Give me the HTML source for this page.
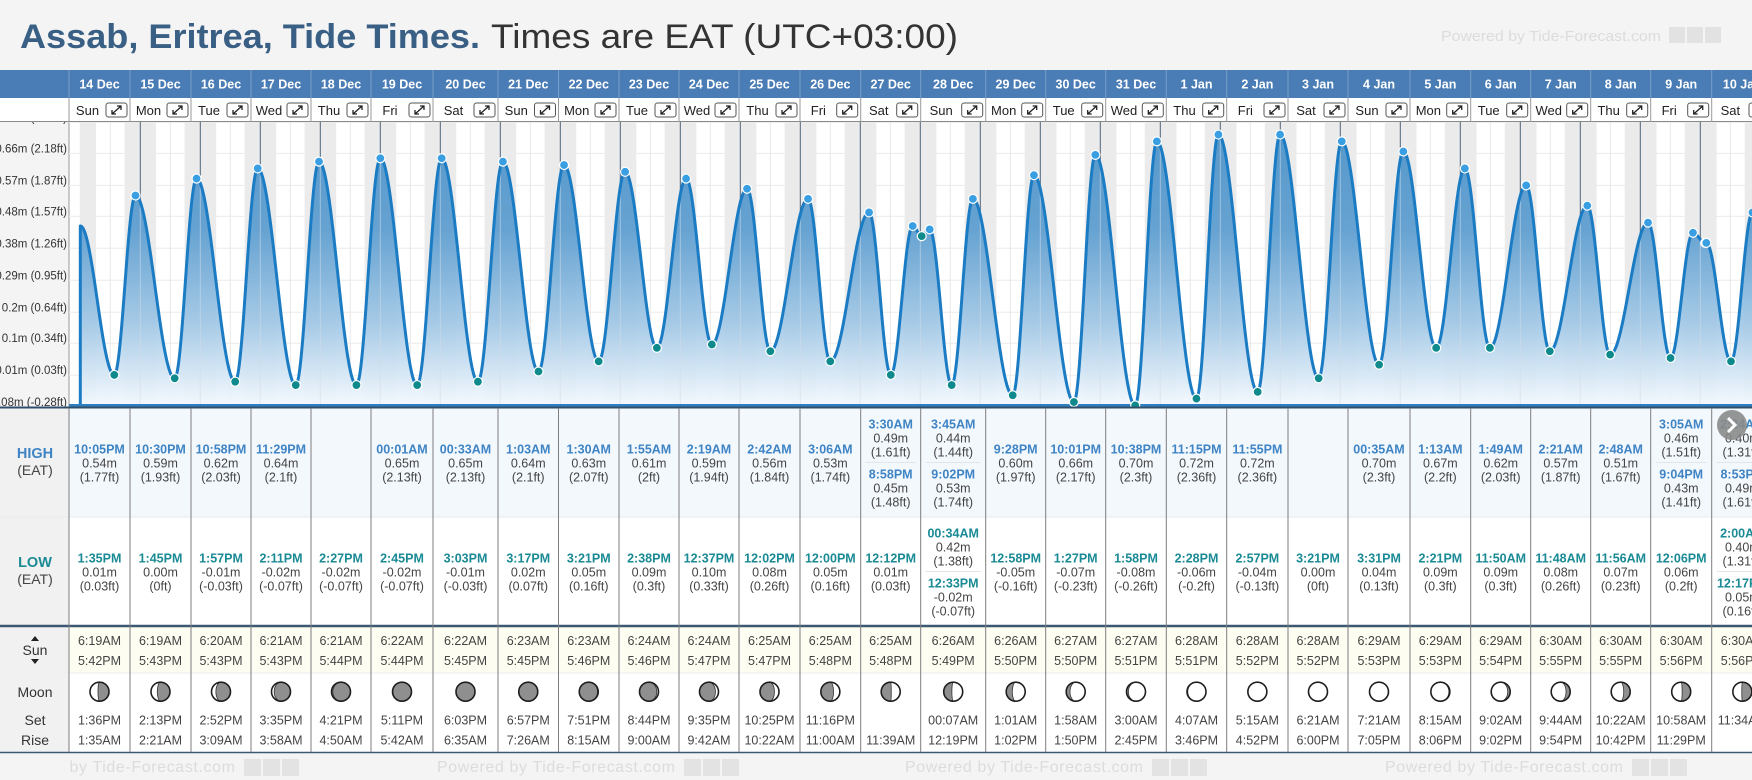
<!DOCTYPE html>
<html><head><meta charset="utf-8">
<style>
html,body{margin:0;padding:0;background:#f4f4f4;}
svg{display:block;font-family:"Liberation Sans",Arial,sans-serif;}
</style></head>
<body>
<svg id="c" width="1752" height="780" viewBox="0 0 1752 780" xmlns="http://www.w3.org/2000/svg">
<defs>
<linearGradient id="fillg" x1="0" y1="0" x2="0" y2="1" gradientUnits="objectBoundingBox">
<stop offset="0" stop-color="#4b92c8"/>
<stop offset="0.35" stop-color="#5c9dd0"/>
<stop offset="0.7" stop-color="#a2c8e6"/>
<stop offset="1" stop-color="#f4f9fe"/>
</linearGradient>
<clipPath id="plotclip"><rect x="69" y="122" width="1683" height="285"/></clipPath>
<clipPath id="footclip"><rect x="69" y="753" width="1683" height="27"/></clipPath>
</defs>
<rect x="0" y="0" width="1752" height="780" fill="#f4f4f4"/>
<text x="20" y="48" font-size="34" font-weight="bold" fill="#3a5f85" textLength="460" lengthAdjust="spacingAndGlyphs">Assab, Eritrea, Tide Times.</text>
<text x="491" y="48" font-size="34" fill="#333" textLength="467" lengthAdjust="spacingAndGlyphs">Times are EAT (UTC+03:00)</text>
<text x="1441" y="41" font-size="15" fill="#dcdcdc" textLength="220" lengthAdjust="spacingAndGlyphs">Powered by Tide-Forecast.com</text>
<g fill="#e2e2e2"><rect x="1669" y="27" width="16" height="16"/><rect x="1687" y="27" width="16" height="16"/><rect x="1705" y="27" width="16" height="16"/></g>
<g id="plot"></g>
<g id="table"></g>
</svg>
<script>
const dates=['14 Dec','15 Dec','16 Dec','17 Dec','18 Dec','19 Dec','20 Dec','21 Dec','22 Dec','23 Dec','24 Dec','25 Dec','26 Dec','27 Dec','28 Dec','29 Dec','30 Dec','31 Dec','1 Jan','2 Jan','3 Jan','4 Jan','5 Jan','6 Jan','7 Jan','8 Jan','9 Jan','10 Jan'];
const weekdays=['Sun','Mon','Tue','Wed','Thu','Fri','Sat','Sun','Mon','Tue','Wed','Thu','Fri','Sat','Sun','Mon','Tue','Wed','Thu','Fri','Sat','Sun','Mon','Tue','Wed','Thu','Fri','Sat'];
const highTime=[['10:05PM'],['10:30PM'],['10:58PM'],['11:29PM'],[],['00:01AM'],['00:33AM'],['1:03AM'],['1:30AM'],['1:55AM'],['2:19AM'],['2:42AM'],['3:06AM'],['3:30AM','8:58PM'],['3:45AM','9:02PM'],['9:28PM'],['10:01PM'],['10:38PM'],['11:15PM'],['11:55PM'],[],['00:35AM'],['1:13AM'],['1:49AM'],['2:21AM'],['2:48AM'],['3:05AM','9:04PM'],['2:24AM','8:53PM']];
const highM=[[0.54],[0.59],[0.62],[0.64],[],[0.65],[0.65],[0.64],[0.63],[0.61],[0.59],[0.56],[0.53],[0.49,0.45],[0.44,0.53],[0.60],[0.66],[0.70],[0.72],[0.72],[],[0.70],[0.67],[0.62],[0.57],[0.51],[0.46,0.43],[0.40,0.49]];
const highFt=[['1.77ft'],['1.93ft'],['2.03ft'],['2.1ft'],[],['2.13ft'],['2.13ft'],['2.1ft'],['2.07ft'],['2ft'],['1.94ft'],['1.84ft'],['1.74ft'],['1.61ft','1.48ft'],['1.44ft','1.74ft'],['1.97ft'],['2.17ft'],['2.3ft'],['2.36ft'],['2.36ft'],[],['2.3ft'],['2.2ft'],['2.03ft'],['1.87ft'],['1.67ft'],['1.51ft','1.41ft'],['1.31ft','1.61ft']];
const lowTime=[['1:35PM'],['1:45PM'],['1:57PM'],['2:11PM'],['2:27PM'],['2:45PM'],['3:03PM'],['3:17PM'],['3:21PM'],['2:38PM'],['12:37PM'],['12:02PM'],['12:00PM'],['12:12PM'],['00:34AM','12:33PM'],['12:58PM'],['1:27PM'],['1:58PM'],['2:28PM'],['2:57PM'],['3:21PM'],['3:31PM'],['2:21PM'],['11:50AM'],['11:48AM'],['11:56AM'],['12:06PM'],['2:00AM','12:17PM']];
const lowM=[[0.01],[0.00],[-0.01],[-0.02],[-0.02],[-0.02],[-0.01],[0.02],[0.05],[0.09],[0.10],[0.08],[0.05],[0.01],[0.42,-0.02],[-0.05],[-0.07],[-0.08],[-0.06],[-0.04],[0.00],[0.04],[0.09],[0.09],[0.08],[0.07],[0.06],[0.40,0.05]];
const lowFt=[['0.03ft'],['0ft'],['-0.03ft'],['-0.07ft'],['-0.07ft'],['-0.07ft'],['-0.03ft'],['0.07ft'],['0.16ft'],['0.3ft'],['0.33ft'],['0.26ft'],['0.16ft'],['0.03ft'],['1.38ft','-0.07ft'],['-0.16ft'],['-0.23ft'],['-0.26ft'],['-0.2ft'],['-0.13ft'],['0ft'],['0.13ft'],['0.3ft'],['0.3ft'],['0.26ft'],['0.23ft'],['0.2ft'],['1.31ft','0.16ft']];
const sunrise=['6:19AM','6:19AM','6:20AM','6:21AM','6:21AM','6:22AM','6:22AM','6:23AM','6:23AM','6:24AM','6:24AM','6:25AM','6:25AM','6:25AM','6:26AM','6:26AM','6:27AM','6:27AM','6:28AM','6:28AM','6:28AM','6:29AM','6:29AM','6:29AM','6:30AM','6:30AM','6:30AM','6:30AM'];
const sunset=['5:42PM','5:43PM','5:43PM','5:43PM','5:44PM','5:44PM','5:45PM','5:45PM','5:46PM','5:46PM','5:47PM','5:47PM','5:48PM','5:48PM','5:49PM','5:50PM','5:50PM','5:51PM','5:51PM','5:52PM','5:52PM','5:53PM','5:53PM','5:54PM','5:55PM','5:55PM','5:56PM','5:56PM'];
const moonSet=['1:36PM','2:13PM','2:52PM','3:35PM','4:21PM','5:11PM','6:03PM','6:57PM','7:51PM','8:44PM','9:35PM','10:25PM','11:16PM','','00:07AM','1:01AM','1:58AM','3:00AM','4:07AM','5:15AM','6:21AM','7:21AM','8:15AM','9:02AM','9:44AM','10:22AM','10:58AM','11:34AM'];
const moonRise=['1:35AM','2:21AM','3:09AM','3:58AM','4:50AM','5:42AM','6:35AM','7:26AM','8:15AM','9:00AM','9:42AM','10:22AM','11:00AM','11:39AM','12:19PM','1:02PM','1:50PM','2:45PM','3:46PM','4:52PM','6:00PM','7:05PM','8:06PM','9:02PM','9:54PM','10:42PM','11:29PM',''];
const moonLit=[0.42,0.33,0.23,0.14,0.07,0.02,0.0,0.01,0.04,0.09,0.16,0.24,0.33,0.47,0.57,0.68,0.8,0.9,0.96,0.99,1.0,0.99,0.95,0.87,0.78,0.66,0.55,0.47];
const moonSide=['L','L','L','L','L','L','L','R','R','R','R','R','R','R','R','R','R','R','R','R','R','L','L','L','L','L','L','L'];
const yTickFt=[-0.28,0.03,0.34,0.64,0.95,1.26,1.57,1.87,2.18,2.48];
const yTickLabels=['-0.08m (-0.28ft)','0.01m (0.03ft)','0.1m (0.34ft)','0.2m (0.64ft)','0.29m (0.95ft)','0.38m (1.26ft)','0.48m (1.57ft)','0.57m (1.87ft)','0.66m (2.18ft)','0.75m (2.48ft)'];
const startLevel=0.45;

const colX=[69,130,191,251,311,371,433,498,558.5,619,679,739,800,860.7,920.7,985.7,1045.7,1105.7,1166.3,1226.7,1288,1348,1410,1470.7,1530.7,1590.7,1650.7,1711.7,1773];
const X0=80.3, DAY=60, TOP=122, BOT=406;
function xT(t){return X0+t*DAY;}
function yM(m){return 378.3-338.5*m;}
function parseT(s){const pm=s.slice(-2)==='PM';const p=s.slice(0,-2).split(':');let h=(+p[0])%12+(pm?12:0);return (h+(+p[1])/60)/24;}
const NS='http://www.w3.org/2000/svg';
const plot=document.getElementById('plot'), table=document.getElementById('table');
function mk(tag,attrs,parent){const e=document.createElementNS(NS,tag);for(const k in attrs)e.setAttribute(k,attrs[k]);parent.appendChild(e);return e;}
function tx(x,y,s,size,fill,weight,anchor,parent){const e=mk('text',{x:x,y:y,'font-size':size,fill:fill,'font-weight':weight||'normal','text-anchor':anchor||'middle'},parent);e.textContent=s;return e;}

let e;
e=mk('rect',{x:69,y:TOP,width:1683,height:BOT-TOP,fill:'#fff',stroke:'#999','stroke-width':1},plot);


const pg=mk('g',{'clip-path':'url(#plotclip)'},plot);
yTickFt.forEach(function(f){const yy=yM(f/3.28084);
  const g=mk('line',{x1:69,x2:1752,y1:yy,y2:yy,stroke:'#ececec','stroke-width':1},pg);
  
  });
for(let q=0;q<28*4;q++){const xx=xT(q/4);
  const g=mk('line',{x1:xx,x2:xx,y1:TOP,y2:BOT,stroke:'#e8e8e8','stroke-width':1},pg);
  
  }
function band(t1,t2){const b=mk('rect',{x:xT(t1),y:TOP,width:Math.max(0,xT(t2)-xT(t1)),height:BOT-TOP,fill:'#ebebeb'},pg);
  
  }
band(0,parseT(sunrise[0]));
for(let d=0;d<28;d++){band(d+parseT(sunset[d]), d<27? d+1+parseT(sunrise[d+1]) : 28.3);}
for(let d=1;d<28;d++){const xx=xT(d);
  const l=mk('line',{x1:xx,x2:xx,y1:TOP,y2:BOT,stroke:'#4f667c','stroke-width':1},pg);
  
  }
const ext=[{t:0,v:startLevel,k:'s'}];
for(let d=0;d<28;d++){
  highTime[d].forEach(function(s,i){ext.push({t:d+parseT(s),v:highM[d][i],k:'h'});});
  lowTime[d].forEach(function(s,i){ext.push({t:d+parseT(s),v:lowM[d][i],k:'l'});});
}
ext.sort(function(a,b){return a.t-b.t;});
function level(t){
  if(t<=ext[0].t)return ext[0].v;
  for(let i=1;i<ext.length;i++){if(t<=ext[i].t){const a=ext[i-1],b=ext[i];const s=(t-a.t)/(b.t-a.t);return a.v+(b.v-a.v)*(1-Math.cos(Math.PI*s))/2;}}
  return ext[ext.length-1].v;
}
const tEnd=(1760-X0)/DAY;
let pts=[];
for(let t=0;t<=tEnd;t+=0.01)pts.push(xT(t).toFixed(1)+','+yM(level(t)).toFixed(1));
e=mk('path',{d:'M'+xT(0)+','+BOT+' L'+pts.join(' L')+' L'+xT(tEnd)+','+BOT+' Z',fill:'url(#fillg)','fill-opacity':0.93},pg);


for(let d=1;d<28;d++){const xx=xT(d);
  const l=mk('line',{x1:xx,x2:xx,y1:yM(level(d))+3,y2:BOT,stroke:'#dde6ee','stroke-width':1,'stroke-opacity':0.55},pg);
  
  }
e=mk('path',{d:'M'+xT(0)+','+BOT+' L'+pts.join(' L'),fill:'none',stroke:'#1b7cc4','stroke-width':3,'stroke-linejoin':'round'},pg);


e=mk('line',{x1:69,x2:1752,y1:BOT-0.5,y2:BOT-0.5,stroke:'#2f7fc0','stroke-width':3},pg);


ext.forEach(function(p){if(p.k==='s')return;
  const c=mk('circle',{cx:xT(p.t),cy:yM(p.v),r:4.5,fill:p.k==='h'?'#3a9ee2':'#0e8a8c',stroke:'#fff','stroke-width':1.2},pg);
  
  });
yTickFt.forEach(function(f,i){const l=tx(67,yM(f/3.28084)-1,yTickLabels[i],11.5,'#333','normal','end',plot);
  
  });

e=mk('rect',{x:0,y:70,width:1752,height:28,fill:'#4a7db5'},table);


e=mk('rect',{x:0,y:98,width:1752,height:24,fill:'#fff'},table);


mk('line',{x1:0,x2:1752,y1:121.5,y2:121.5,stroke:'#8a8a8a','stroke-width':1},table);
for(let d=0;d<28;d++){
  const a=colX[d],b=colX[d+1],cx=(a+b)/2;
  mk('line',{x1:a,x2:a,y1:70,y2:98,stroke:'#79a0c9','stroke-width':1},table);
  mk('line',{x1:a,x2:a,y1:98,y2:122,stroke:'#9a9a9a','stroke-width':1},table);
  const dt=tx(cx,88.5,dates[d],12.5,'#fff','bold','middle',table);
  
  
  const bx=b-24;
  const wd=tx((a+bx)/2,115,weekdays[d],13,'#222','normal','middle',table);
  
  
  const ic=mk('g',{},table);
  
  
  mk('rect',{x:bx,y:103,width:21,height:14,rx:2.5,fill:'#fff',stroke:'#555','stroke-width':1},ic);
  mk('path',{d:'M'+(bx+6)+',114 L'+(bx+15)+',106 M'+(bx+11)+',106 L'+(bx+15)+',106 L'+(bx+15)+',110 M'+(bx+6)+',110 L'+(bx+6)+',114 L'+(bx+10)+',114',fill:'none',stroke:'#222','stroke-width':1.3},ic);
}

e=mk('rect',{x:0,y:408,width:69,height:344,fill:'#f1f1f1'},table);


e=mk('rect',{x:69,y:408,width:1683,height:109,fill:'#f3f8fd'},table);


e=mk('rect',{x:69,y:517,width:1683,height:109,fill:'#fff'},table);


mk('line',{x1:0,x2:1752,y1:517,y2:517,stroke:'#e6ebf0','stroke-width':1},table);
e=mk('rect',{x:69,y:627,width:1683,height:46,fill:'#fdfdf1'},table);


e=mk('rect',{x:69,y:673,width:1683,height:79,fill:'#fff'},table);


mk('line',{x1:0,x2:1752,y1:673,y2:673,stroke:'#eeeeee','stroke-width':1},table);
mk('line',{x1:0,x2:1752,y1:407.5,y2:407.5,stroke:'#2f4f6a','stroke-width':2},table);
mk('line',{x1:0,x2:1752,y1:626,y2:626,stroke:'#3b5872','stroke-width':2.5},table);
mk('line',{x1:0,x2:1752,y1:752.5,y2:752.5,stroke:'#3b5872','stroke-width':1.5},table);
[[35,458,'HIGH',14.5,'#3f84c4','bold','high-label'],[35,475,'(EAT)',14,'#444','normal','high-tz-label'],
 [35,567,'LOW',14.5,'#1a8a95','bold','low-label'],[35,584,'(EAT)',14,'#444','normal','low-tz-label'],
 [35,655,'Sun',14,'#333','normal','sun-label'],[35,697,'Moon',14,'#333','normal','moon-label'],
 [35,725,'Set',14,'#333','normal','moonset-label'],[35,745,'Rise',14,'#333','normal','moonrise-label']].forEach(function(r){
  const l=tx(r[0],r[1],r[2],r[3],r[4],r[5],'middle',table);
  
  });
e=mk('path',{d:'M31,641 L35,636 L39,641 Z M31,659 L35,664 L39,659 Z',fill:'#222'},table);



function cell(cx,a,b,times,ms,fts,single,dbl,tcol,name){
  const n=times.length;
  times.forEach(function(s,i){
    const base=n===1?single:dbl[i];
    const t=tx(cx,base,s,12.5,tcol,'bold','middle',table);
    
    
    const m=tx(cx,base+14,ms[i].toFixed(2)+'m',12.5,'#444','normal','middle',table);
    
    
    const f=tx(cx,base+28,'('+fts[i]+')',12.5,'#444','normal','middle',table);
    
    
  });
  if(n===2){mk('line',{x1:a+5,x2:b-5,y1:dbl[0]+34,y2:dbl[0]+34,stroke:'#e2e6ea','stroke-width':1},table);}
}
for(let d=0;d<28;d++){
  const a=colX[d],b=colX[d+1],cx=(a+b)/2;
  mk('line',{x1:a,x2:a,y1:408,y2:752,stroke:'#7d7d7d','stroke-width':1},table);
  cell(cx,a,b,highTime[d],highM[d],highFt[d],453.5,[428.5,478.5],'#3f84c4','high-tide');
  cell(cx,a,b,lowTime[d],lowM[d],lowFt[d],562.5,[537.5,587.5],'#1a8a95','low-tide');
  let s=tx(cx,645,sunrise[d],12.5,'#444','normal','middle',table);
  
  
  s=tx(cx,665,sunset[d],12.5,'#444','normal','middle',table);
  
  
  const r=9.5,cy=691.7,k=moonLit[d],right=moonSide[d]==='R';
  const mg=mk('g',{},table);
  
  
  mk('circle',{cx:cx,cy:cy,r:r,fill:'#8f8f8f'},mg);
  const rx=Math.abs(1-2*k)*r;
  let s1=right?1:0, s2;
  if(right)s2=k<0.5?0:1; else s2=k<0.5?1:0;
  if(k>0.005){mk('path',{d:'M'+cx+','+(cy-r)+' A'+r+','+r+' 0 0 '+s1+' '+cx+','+(cy+r)+' A'+rx.toFixed(2)+','+r+' 0 0 '+s2+' '+cx+','+(cy-r)+' Z',fill:'#fff',stroke:'#333','stroke-width':0.8},mg);}
  mk('circle',{cx:cx,cy:cy,r:r,fill:'none',stroke:'#1e1e1e','stroke-width':1.6},mg);
  if(moonSet[d]){s=tx(cx,724.5,moonSet[d],12.5,'#444','normal','middle',table);
    
    }
  if(moonRise[d]){s=tx(cx,744.5,moonRise[d],12.5,'#444','normal','middle',table);
    
    }
}
const fg=mk('g',{'clip-path':'url(#footclip)'},table);
[-3,437,905,1385].forEach(function(fx){
  const f=tx(fx,772,'Powered by Tide-Forecast.com',16,'#dcdcdc','normal','start',fg);
  f.setAttribute('textLength','238');
  
  
  mk('rect',{x:fx+247,y:759,width:17,height:17,fill:'#e3e3e3'},fg);
  mk('rect',{x:fx+266,y:759,width:17,height:17,fill:'#e3e3e3'},fg);
  mk('rect',{x:fx+285,y:759,width:17,height:17,fill:'#e3e3e3'},fg);
});
const nb=mk('g',{},table);


mk('circle',{cx:1732,cy:425,r:15,fill:'#8a8a8a','fill-opacity':0.9},nb);
mk('path',{d:'M1728,418 L1735,425 L1728,432',fill:'none',stroke:'#fff','stroke-width':3},nb);
</script>
</body></html>
